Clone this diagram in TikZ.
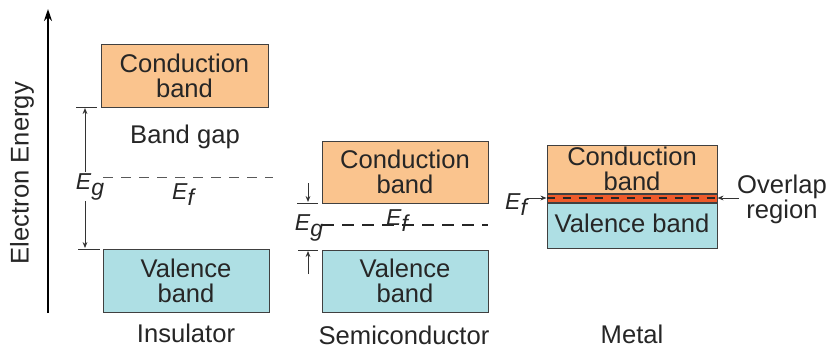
\documentclass[tikz,border=0pt]{standalone}
\usepackage{fontspec}
\setmainfont{Liberation Sans}
\usetikzlibrary{arrows.meta,positioning}

\definecolor{condfill}{HTML}{FAC48E}
\definecolor{valfill}{HTML}{AEDFE4}
\definecolor{overlapfill}{HTML}{EE5A2A}
\definecolor{boxline}{HTML}{404040}

\newcommand{\enlvl}[1]{\textit{E}\raisebox{-0.5ex}{\textit{#1}}}

\begin{document}
\begin{tikzpicture}[
    x=0.5pt, y=-0.5pt,
    every node/.style={font=\fontsize{12.8}{12.5}\selectfont, text=black!85},
    band/.style={draw=boxline, line width=0.5pt, align=center, inner sep=0pt},
    cband/.style={band, fill=condfill},
    vband/.style={band, fill=valfill},
    tick/.style={line width=0.5pt, black!80},
    gaparrow/.style={-{Stealth[length=3pt,width=2.4pt]}, line width=0.5pt, black!80},
    level/.style={font=\fontsize{11.5}{11.5}\selectfont}
]
\useasboundingbox (0,0) rectangle (829,349);

% Energy axis
\coordinate (axisbot) at (48,313);
\coordinate (axistop) at (48,9);
\draw[-{Stealth[length=6pt,width=4pt]}, line width=1.2pt] (axisbot) -- (axistop);
\node[rotate=90] (axislabel) at (22,173) {Electron Energy};

% Insulator
\node[cband, minimum width=83.5pt, minimum height=31.5pt] (icond) at (184.5,75.5) {Conduction\\band};
\node[vband, minimum width=83pt, minimum height=31.5pt] (ival) at (186,280.5) {Valence\\band};
\node (igap) at (185,137) {Band gap};
\node (ilabel) at (186,333) {Insulator};
\coordinate (it1) at (76,107);
\coordinate (it1e) at (97,107);
\coordinate (it2) at (78,249);
\coordinate (it2e) at (100,249);
\draw[tick] (it1) -- (it1e);
\draw[tick] (it2) -- (it2e);
\node[level] (ieg) at (90,187) {\enlvl{g}};
\coordinate (iarrtop) at (85,108);
\coordinate (iarrbot) at (85,248);
\draw[gaparrow] (85,172) -- (iarrtop);
\draw[gaparrow] (85,201) -- (iarrbot);
\coordinate (idash1) at (103,177);
\coordinate (idash2) at (273,177);
\draw[black!65, line width=0.5pt, dash pattern=on 5pt off 4pt] (idash1) -- (idash2);
\node[level] (ief) at (184,195) {\enlvl{f}};

% Semiconductor
\node[cband, minimum width=83pt, minimum height=31pt] (scond) at (405,172) {Conduction\\band};
\node[vband, minimum width=83pt, minimum height=31pt] (sval) at (405,281) {Valence\\band};
\node (slabel) at (404,335) {Semiconductor};
\coordinate (st1) at (297,203);
\coordinate (st1e) at (318,203);
\coordinate (st2) at (298,250);
\coordinate (st2e) at (318,250);
\draw[tick] (st1) -- (st1e);
\draw[tick] (st2) -- (st2e);
\coordinate (sarr1) at (308,183);
\coordinate (sarr1e) at (308,202);
\coordinate (sarr2) at (308,274);
\coordinate (sarr2e) at (308,251);
\draw[gaparrow] (sarr1) -- (sarr1e);
\draw[gaparrow] (sarr2) -- (sarr2e);
\node[level] (seg) at (309,228) {\enlvl{g}};
\coordinate (sdash1) at (322,225);
\coordinate (sdash2) at (488,225);
\draw[black!85, line width=1.2pt, dash pattern=on 6pt off 4pt] (sdash1) -- (sdash2);
\node[level] (sef) at (398,221) {\enlvl{f}};

% Metal
\node[cband, minimum width=85pt, minimum height=24pt] (mcond) at (632,169) {Conduction\\band};
\node[band, fill=overlapfill, minimum width=85pt, minimum height=4pt, anchor=north] (mover) at (mcond.south) {};
\node[vband, minimum width=85pt, minimum height=22.5pt, anchor=north, text depth=0pt] (mval) at (mover.south) {\raisebox{2pt}{Valence band}};
\draw[black!85, line width=1pt, dash pattern=on 4pt off 4pt] (mover.west) -- (mover.east);
\node (mlabel) at (632,334) {Metal};
\node[level] (mef) at (517,205) {\enlvl{f}};
\coordinate (mefarr) at (527,198);
\draw[gaparrow] (mefarr) -- (mover.west);
\node[align=center] (overlap) at (782,199) {Overlap\\region};
\coordinate (overarr) at (739,198);
\draw[gaparrow] (overarr) -- (mover.east);

\end{tikzpicture}
\end{document}
